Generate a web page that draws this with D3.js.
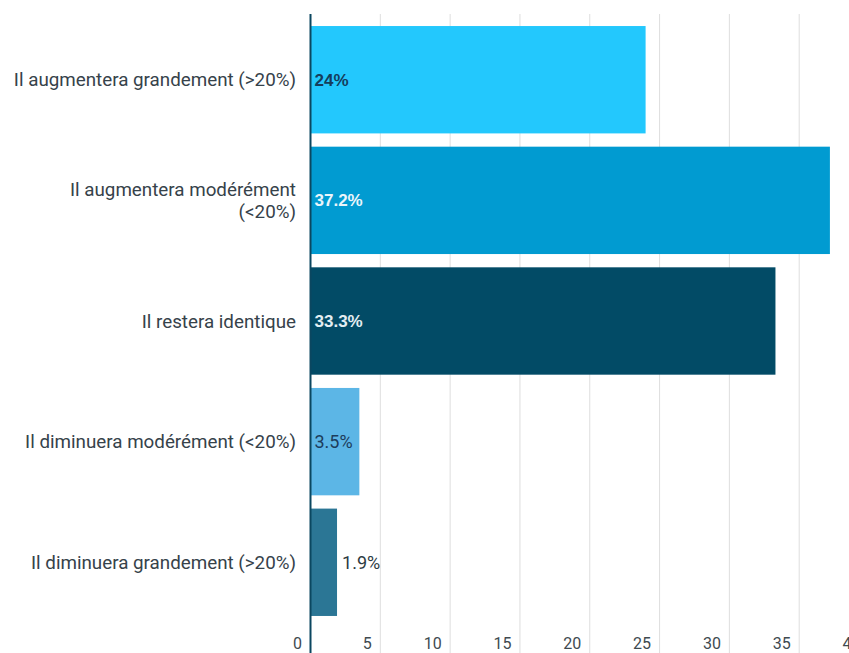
<!DOCTYPE html>
<html>
<head>
<meta charset="utf-8">
<script src="https://cdn.jsdelivr.net/npm/d3@7"></script>
<style>
  html, body { margin: 0; padding: 0; background: #ffffff; }
  svg { display: block; }
</style>
</head>
<body>
<svg id="chart" width="849" height="653"></svg>
<script>
// Expected change in volume, share of respondents (%)
const categories = [
  "Il augmentera grandement (>20%)",
  "Il augmentera modérément (<20%)",
  "Il restera identique",
  "Il diminuera modérément (<20%)",
  "Il diminuera grandement (>20%)"
];
const values = [24, 37.2, 33.3, 3.5, 1.9];
const valueLabels = ["24%", "37.2%", "33.3%", "3.5%", "1.9%"];
const barColors = ["#23c8fd", "#019bd1", "#024b66", "#5cb6e6", "#2b7695"];
const tickValues = [0, 5, 10, 15, 20, 25, 30, 35, 40];

const W = 849, H = 653;
const svg = d3.select("#chart");

const x = d3.scaleLinear().domain([0, 40]).range([310.5, 869]);
const y = d3.scaleBand()
  .domain(categories)
  .range([19.4, 622.6])
  .paddingInner(0.11)
  .paddingOuter(0.055);

const gridTop = 14;

// vertical gridlines
svg.append("g")
  .selectAll("line")
  .data(tickValues.filter(v => v > 0))
  .join("line")
  .attr("x1", d => x(d)).attr("x2", d => x(d))
  .attr("y1", gridTop).attr("y2", H)
  .attr("stroke", "#dedede")
  .attr("stroke-width", 1);

// bars
svg.append("g")
  .selectAll("rect")
  .data(categories)
  .join("rect")
  .attr("x", x(0))
  .attr("y", d => y(d))
  .attr("width", (d, i) => x(values[i]) - x(0))
  .attr("height", y.bandwidth())
  .attr("fill", (d, i) => barColors[i]);

// zero baseline
svg.append("line")
  .attr("x1", x(0)).attr("x2", x(0))
  .attr("y1", gridTop).attr("y2", H)
  .attr("stroke", "#0b4760")
  .attr("stroke-width", 2);

// value labels
const labelStyle = [
  { bold: true,  fill: "#153d5c", outside: false },
  { bold: true,  fill: "#eaf5fb", outside: false },
  { bold: true,  fill: "#e3eef3", outside: false },
  { bold: false, fill: "#1c3d5c", outside: false },
  { bold: false, fill: "#2c3a42", outside: true }
];
svg.append("g")
  .selectAll("text")
  .data(categories)
  .join("text")
  .attr("x", (d, i) => labelStyle[i].outside ? x(values[i]) + 5 : x(0) + 4)
  .attr("y", d => y(d) + y.bandwidth() / 2)
  .attr("dy", "0.35em")
  .attr("font-family", (d, i) => labelStyle[i].bold ? "'Liberation Sans', Arial, sans-serif" : "Roboto, sans-serif")
  .attr("font-weight", (d, i) => labelStyle[i].bold ? 700 : 400)
  .attr("font-size", (d, i) => labelStyle[i].bold ? 17 : 18)
  .attr("fill", (d, i) => labelStyle[i].fill)
  .text((d, i) => valueLabels[i]);

// category labels, wrapped when too wide
const maxLabelWidth = 284;
const lineHeight = 22;
const catG = svg.append("g")
  .attr("font-family", "Roboto, sans-serif")
  .attr("font-size", 18.8)
  .attr("fill", "#36424a")
  .attr("text-anchor", "end");

categories.forEach(cat => {
  const t = catG.append("text")
    .attr("x", 296)
    .attr("y", y(cat) + y.bandwidth() / 2)
    .attr("dy", "0.35em");
  t.text(cat);
  if (t.node().getComputedTextLength() > maxLabelWidth) {
    const words = cat.split(" ");
    const lines = [];
    let cur = [];
    words.forEach(w => {
      t.text([...cur, w].join(" "));
      if (cur.length && t.node().getComputedTextLength() > maxLabelWidth) {
        lines.push(cur.join(" "));
        cur = [w];
      } else {
        cur.push(w);
      }
    });
    lines.push(cur.join(" "));
    t.text(null);
    const cy = y(cat) + y.bandwidth() / 2 - (lines.length - 1) * lineHeight / 2;
    lines.forEach((ln, k) => {
      t.append("tspan")
        .attr("x", 296)
        .attr("y", cy + k * lineHeight)
        .attr("dy", "0.35em")
        .text(ln);
    });
  }
});

// bottom axis labels
const axis = d3.axisBottom(x)
  .tickValues(tickValues)
  .tickSize(0)
  .tickFormat(d3.format("d"));
const axG = svg.append("g")
  .attr("transform", "translate(0,638)")
  .call(axis);
axG.select(".domain").remove();
axG.selectAll("text")
  .attr("text-anchor", "end")
  .attr("dx", -9)
  .attr("dy", "0.71em")
  .attr("y", 0)
  .attr("font-family", "Roboto, sans-serif")
  .attr("font-size", 16)
  .attr("fill", "#404a50");
</script>
</body>
</html>
